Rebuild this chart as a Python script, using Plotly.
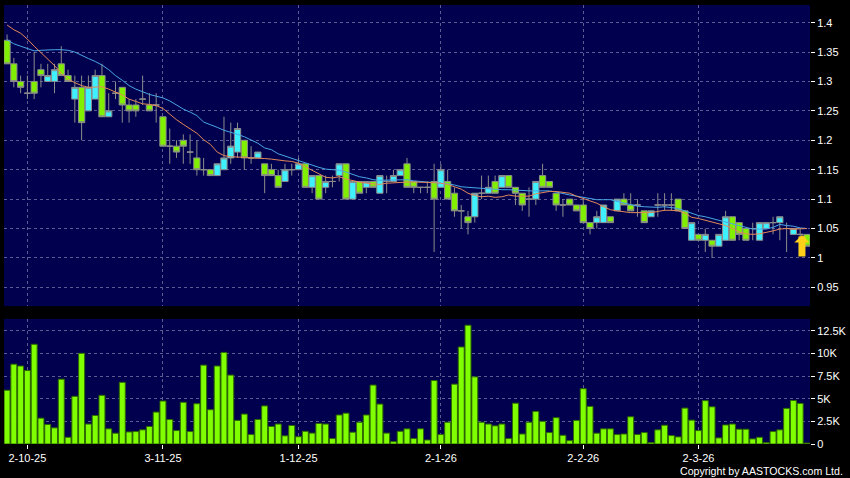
import plotly.graph_objects as go

# daily bars, oldest first (0 = 26 Sep 2025)
opens = [1.37, 1.33, 1.30, 1.28, 1.30, 1.32, 1.30, 1.30, 1.33, 1.31,
         1.27, 1.29, 1.25, 1.27, 1.31, 1.24, 1.28, 1.29, 1.26, 1.26,
         1.27, 1.26, 1.26, 1.24, 1.19, 1.19, 1.20, 1.18, 1.17, 1.15,
         1.15, 1.14, 1.15, 1.17, 1.18, 1.20, 1.17, 1.17, 1.16, 1.15,
         1.14, 1.13, 1.15, 1.15, 1.16, 1.12, 1.14, 1.12, 1.13, 1.14,
         1.16, 1.10, 1.13, 1.12, 1.13, 1.11, 1.13, 1.13, 1.14, 1.16,
         1.13, 1.12, 1.12, 1.13, 1.12, 1.13, 1.11, 1.08, 1.07, 1.07,
         1.11, 1.11, 1.13, 1.12, 1.14, 1.12, 1.11, 1.10, 1.10, 1.14,
         1.13, 1.11, 1.09, 1.10, 1.09, 1.09, 1.06, 1.06, 1.06, 1.07,
         1.08, 1.10, 1.09, 1.09, 1.08, 1.07, 1.09, 1.09, 1.09, 1.10,
         1.08, 1.03, 1.04, 1.03, 1.03, 1.02, 1.03, 1.07, 1.06, 1.05,
         1.05, 1.03, 1.05, 1.06, 1.06, 1.05, 1.04, 1.04, 1.04]
highs = [1.38, 1.34, 1.31, 1.31, 1.35, 1.33, 1.33, 1.33, 1.36, 1.32,
         1.31, 1.31, 1.31, 1.32, 1.33, 1.28, 1.30, 1.29, 1.27, 1.27,
         1.31, 1.28, 1.28, 1.24, 1.22, 1.20, 1.21, 1.21, 1.20, 1.17,
         1.15, 1.16, 1.24, 1.23, 1.23, 1.20, 1.19, 1.18, 1.16, 1.16,
         1.15, 1.16, 1.16, 1.17, 1.16, 1.14, 1.14, 1.14, 1.14, 1.16,
         1.16, 1.13, 1.13, 1.13, 1.13, 1.14, 1.14, 1.15, 1.15, 1.17,
         1.13, 1.12, 1.13, 1.16, 1.16, 1.15, 1.12, 1.09, 1.08, 1.11,
         1.14, 1.14, 1.14, 1.14, 1.14, 1.12, 1.11, 1.12, 1.13, 1.16,
         1.13, 1.11, 1.10, 1.10, 1.09, 1.10, 1.06, 1.08, 1.09, 1.07,
         1.10, 1.11, 1.11, 1.10, 1.08, 1.08, 1.11, 1.11, 1.11, 1.10,
         1.08, 1.06, 1.04, 1.05, 1.03, 1.04, 1.08, 1.07, 1.06, 1.05,
         1.06, 1.06, 1.06, 1.07, 1.07, 1.06, 1.05, 1.05, 1.04]
lows = [1.33, 1.29, 1.28, 1.27, 1.27, 1.29, 1.30, 1.28, 1.31, 1.30,
        1.23, 1.20, 1.25, 1.27, 1.24, 1.24, 1.27, 1.23, 1.23, 1.24,
        1.26, 1.25, 1.23, 1.19, 1.16, 1.17, 1.16, 1.16, 1.14, 1.14,
        1.14, 1.14, 1.15, 1.16, 1.17, 1.15, 1.16, 1.17, 1.11, 1.14,
        1.12, 1.13, 1.14, 1.15, 1.12, 1.11, 1.10, 1.11, 1.12, 1.13,
        1.10, 1.10, 1.11, 1.11, 1.12, 1.11, 1.11, 1.13, 1.14, 1.12,
        1.11, 1.11, 1.11, 1.01, 1.12, 1.10, 1.07, 1.05, 1.04, 1.06,
        1.10, 1.11, 1.11, 1.12, 1.12, 1.09, 1.08, 1.07, 1.09, 1.12,
        1.12, 1.08, 1.07, 1.09, 1.08, 1.06, 1.04, 1.05, 1.06, 1.06,
        1.08, 1.09, 1.08, 1.07, 1.06, 1.07, 1.07, 1.08, 1.08, 1.08,
        1.05, 1.03, 1.03, 1.01, 1.00, 1.02, 1.03, 1.03, 1.03, 1.03,
        1.03, 1.03, 1.05, 1.04, 1.03, 1.01, 1.04, 1.01, 1.02]
closes = [1.33, 1.30, 1.29, 1.28, 1.28, 1.31, 1.31, 1.32, 1.31, 1.30,
          1.29, 1.23, 1.29, 1.31, 1.24, 1.25, 1.28, 1.26, 1.25, 1.25,
          1.27, 1.25, 1.26, 1.19, 1.19, 1.18, 1.19, 1.18, 1.15, 1.15,
          1.14, 1.16, 1.17, 1.19, 1.22, 1.17, 1.17, 1.18, 1.14, 1.14,
          1.12, 1.15, 1.15, 1.16, 1.12, 1.14, 1.10, 1.13, 1.13, 1.16,
          1.10, 1.13, 1.11, 1.13, 1.12, 1.14, 1.13, 1.14, 1.15, 1.12,
          1.12, 1.12, 1.12, 1.10, 1.15, 1.10, 1.08, 1.08, 1.06, 1.11,
          1.11, 1.12, 1.11, 1.14, 1.12, 1.11, 1.09, 1.10, 1.13, 1.12,
          1.12, 1.09, 1.09, 1.09, 1.08, 1.06, 1.05, 1.07, 1.09, 1.06,
          1.10, 1.09, 1.08, 1.09, 1.06, 1.08, 1.09, 1.09, 1.09, 1.08,
          1.05, 1.06, 1.03, 1.04, 1.02, 1.04, 1.07, 1.03, 1.04, 1.03,
          1.05, 1.06, 1.06, 1.06, 1.07, 1.05, 1.05, 1.04, 1.02]
volume = [5930, 8800, 8600, 8100, 11000, 2850, 2150, 1780, 7150, 740,
          5260, 10000, 2200, 3150, 5370, 1670, 1190, 6800, 1330, 1370,
          1560, 1930, 3520, 4740, 2700, 1480, 4600, 1370, 4440, 8700,
          3780, 8600, 10100, 7600, 2600, 3300, 1040, 2700, 4200, 1930,
          2200, 900, 2040, 800, 1400, 1200, 2260, 2200, 600, 3200,
          3400, 1300, 2400, 3200, 6500, 4400, 1200, 260, 1400, 1670,
          600, 1670, 440, 7000, 1040, 2400, 6600, 10700, 13100, 7400,
          2400, 2200, 2000, 2200, 600, 4500, 1100, 2400, 3600, 2500,
          1260, 2900, 960, 370, 2600, 6100, 4150, 1190, 1670, 1670,
          1040, 1100, 3000, 1040, 1260, 150, 1560, 2070, 930, 780,
          3960, 2630, 1480, 4780, 4100, 670, 2100, 2200, 1630, 1630,
          560, 740, 150, 1370, 1560, 3930, 4800, 4480, 100]

# moving averages
ma_fast = [1.396, 1.388, 1.382, 1.372, 1.360, 1.349, 1.338, 1.327, 1.314, 1.304,
           1.298, 1.293, 1.290, 1.291, 1.291, 1.287, 1.282, 1.277, 1.270, 1.266,
           1.262, 1.261, 1.259, 1.254, 1.244, 1.235, 1.227, 1.220, 1.212, 1.201,
           1.193, 1.180, 1.174, 1.172, 1.172, 1.171, 1.170, 1.170, 1.169, 1.168,
           1.166, 1.165, 1.164, 1.161, 1.155, 1.149, 1.142, 1.137, 1.136, 1.138,
           1.134, 1.131, 1.129, 1.127, 1.126, 1.125, 1.127, 1.128, 1.129, 1.129,
           1.129, 1.129, 1.128, 1.128, 1.127, 1.125, 1.121, 1.117, 1.110, 1.106,
           1.104, 1.105, 1.103, 1.104, 1.107, 1.105, 1.105, 1.105, 1.109, 1.111,
           1.113, 1.113, 1.112, 1.110, 1.105, 1.101, 1.096, 1.093, 1.087, 1.082,
           1.080, 1.078, 1.077, 1.077, 1.077, 1.077, 1.079, 1.081, 1.081, 1.080,
           1.076, 1.069, 1.067, 1.064, 1.060, 1.058, 1.055, 1.050, 1.044, 1.041,
           1.040, 1.041, 1.043, 1.046, 1.049, 1.050, 1.049, 1.049, 1.050]
ma_slow = [1.371, 1.364, 1.360, 1.356, 1.352, 1.353, 1.354, 1.354, 1.354, 1.353,
           1.350, 1.344, 1.339, 1.334, 1.328, 1.320, 1.310, 1.302, 1.293, 1.287,
           1.282, 1.278, 1.275, 1.272, 1.267, 1.260, 1.253, 1.248, 1.242, 1.231,
           1.227, 1.222, 1.217, 1.214, 1.210, 1.206, 1.200, 1.195, 1.187, 1.184,
           1.177, 1.173, 1.169, 1.166, 1.162, 1.158, 1.154, 1.151, 1.150, 1.149,
           1.146, 1.142, 1.138, 1.136, 1.133, 1.132, 1.132, 1.133, 1.133, 1.133,
           1.131, 1.130, 1.130, 1.129, 1.127, 1.126, 1.124, 1.121, 1.120, 1.119,
           1.118, 1.117, 1.116, 1.116, 1.116, 1.115, 1.114, 1.114, 1.114, 1.114,
           1.114, 1.112, 1.109, 1.107, 1.105, 1.103, 1.100, 1.099, 1.099, 1.099,
           1.096, 1.093, 1.090, 1.088, 1.087, 1.086, 1.086, 1.087, 1.086, 1.084,
           1.080, 1.076, 1.072, 1.070, 1.067, 1.064, 1.061, 1.057, 1.055, 1.052,
           1.049, 1.049, 1.049, 1.052, 1.057, 1.055, 1.054, 1.051, 1.050]

tick_pos = [3, 23, 43, 64, 85, 102]
tick_labels = ["2-10-25", "3-11-25", "1-12-25", "2-1-26", "2-2-26", "2-3-26"]
price_ticks = [0.95, 1.0, 1.05, 1.1, 1.15, 1.2, 1.25, 1.3, 1.35, 1.4]
price_labels = ["0.95", "1", "1.05", "1.1", "1.15", "1.2", "1.25", "1.3", "1.35", "1.4"]
vol_ticks = [0, 2500, 5000, 7500, 10000, 12500]
vol_labels = ["0", "2.5K", "5K", "7.5K", "10K", "12.5K"]

n = len(closes)
assert len(opens) == len(highs) == len(lows) == len(volume) == len(ma_fast) == len(ma_slow) == n
idx = list(range(n))

GREEN = "#80f000"
CYAN = "#3ff0ff"
GRID = "#5c5c92"

fig = go.Figure()
fig.add_trace(go.Candlestick(
    x=idx, open=opens, high=highs, low=lows, close=closes,
    increasing=dict(fillcolor=CYAN, line=dict(color="#8c8c8c", width=1)),
    decreasing=dict(fillcolor=GREEN, line=dict(color="#8c8c8c", width=1)),
    whiskerwidth=0, hoverinfo="skip", xaxis="x", yaxis="y"))
fig.add_trace(go.Scatter(x=idx, y=ma_slow, mode="lines",
                         line=dict(color="#4aa6e6", width=1), xaxis="x", yaxis="y"))
fig.add_trace(go.Scatter(x=idx, y=ma_fast, mode="lines",
                         line=dict(color="#e4885a", width=1), xaxis="x", yaxis="y"))
fig.add_trace(go.Bar(x=idx, y=volume, marker=dict(color="#80ff00", line=dict(color="#2f6a00", width=1)),
                     xaxis="x2", yaxis="y2"))

xr = [-0.45, n - 0.55]
common_x = dict(range=xr, tickvals=tick_pos, showgrid=True, gridcolor=GRID, griddash="3px,3px",
                gridwidth=1, zeroline=False, showline=False, fixedrange=True)
fig.update_layout(
    width=850, height=478,
    paper_bgcolor="black", plot_bgcolor="#00004e",
    margin=dict(l=4, r=40, t=5, b=34),
    showlegend=False, boxgap=0.08, boxgroupgap=0, bargap=0.12,
    font=dict(family="Liberation Sans, Arial, sans-serif", size=11, color="white"),
    xaxis=dict(common_x, anchor="y", showticklabels=False, rangeslider=dict(visible=False)),
    xaxis2=dict(common_x, anchor="y2", ticktext=tick_labels, ticks="outside",
                ticklen=4, tickcolor="white"),
    yaxis=dict(domain=[0.314, 1], range=[0.918, 1.430], side="right", tickvals=price_ticks,
               ticktext=price_labels, ticks="outside", ticklen=4, tickcolor="white",
               showgrid=True, gridcolor=GRID, griddash="3px,3px", zeroline=False),
    yaxis2=dict(domain=[0, 0.285], range=[0, 13800], side="right", tickvals=vol_ticks,
                ticktext=vol_labels, ticks="outside", ticklen=4, tickcolor="white",
                showgrid=True, gridcolor=GRID, griddash="3px,3px", zeroline=False),
)

# yellow marker arrow at the latest bar
fig.add_annotation(x=idx[-1], y=1.039, xref="x", yref="y", ax=0, ay=23, text="",
                   showarrow=True, arrowhead=1, arrowsize=0.36, arrowwidth=7,
                   arrowcolor="#ffcf1a", xshift=-5)
fig.add_annotation(text="Copyright by AASTOCKS.com Ltd.", xref="paper", yref="paper",
                   x=1.043, y=-0.062, xanchor="right", yanchor="middle", showarrow=False,
                   font=dict(size=10.6, color="white"))

fig.write_html("out.html", config={"displayModeBar": False},
               post_script="document.body.style.margin='0';")
